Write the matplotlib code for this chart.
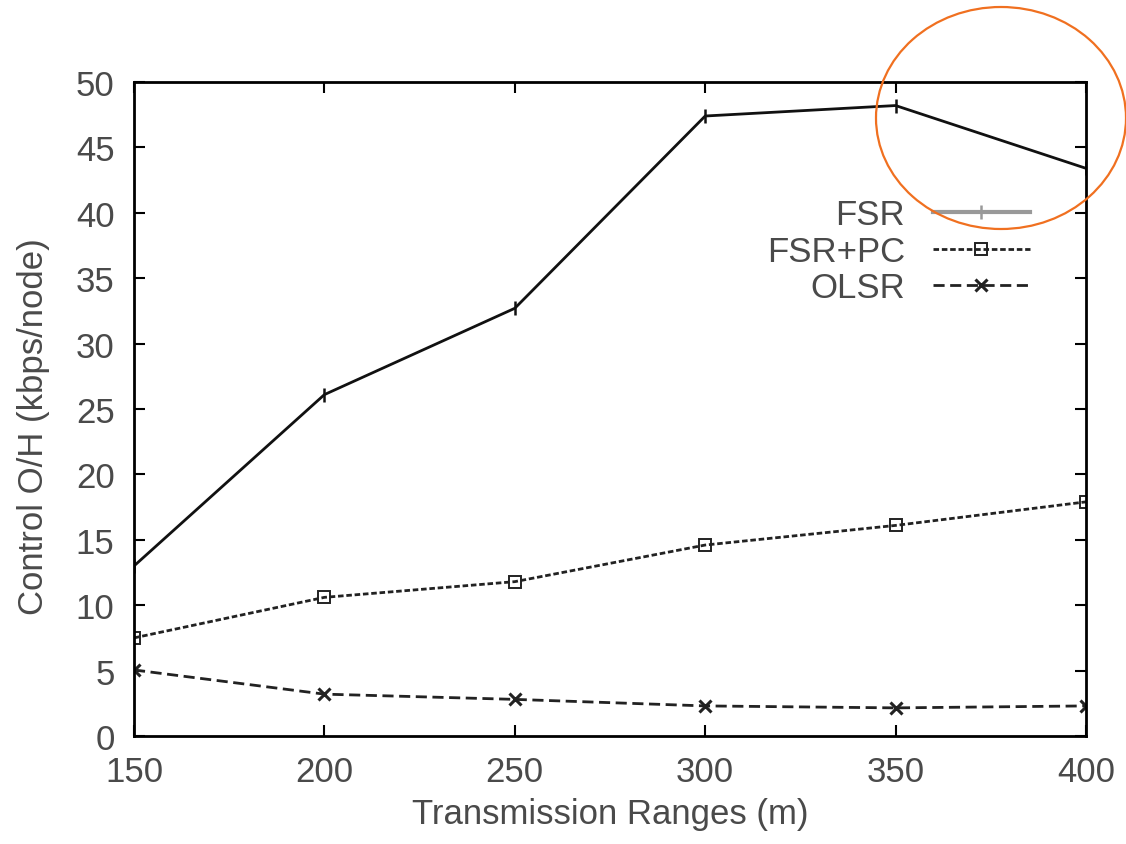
#! /usr/bin/env python3

import matplotlib
matplotlib.use( 'Agg' )
import matplotlib.pyplot as plt
from   matplotlib.patches import Ellipse

#----------------------------------------------------------------------------
# Data
#----------------------------------------------------------------------------
ranges   = [ 150, 200, 250, 300, 350, 400 ]
fsr      = [ 13.0, 26.1, 32.7, 47.4, 48.2, 43.4 ]
fsr_pc   = [ 7.5, 10.6, 11.8, 14.6, 16.1, 17.9 ]
olsr     = [ 5.05, 3.2, 2.8, 2.3, 2.15, 2.3 ]

xticks   = [ 150, 200, 250, 300, 350, 400 ]
yticks   = [ 0, 5, 10, 15, 20, 25, 30, 35, 40, 45, 50 ]

#----------------------------------------------------------------------------
def main():
    plt.rcParams['font.family'] = [ 'Liberation Sans', 'DejaVu Sans' ]
    txt = '#4a4a4a'
    fs  = 25

    W, H = 1126, 845
    fig = plt.figure( figsize = ( W / 100, H / 100 ), dpi = 100 )
    ax  = fig.add_axes( [ 134 / W, 1 - 737 / H, 952 / W, 654 / H ] )

    ax.plot( ranges, fsr, color = '#111111', lw = 2.0, ls = '-',
             marker = '|', ms = 10, mew = 1.8, label = 'FSR' )
    ax.plot( ranges, fsr_pc, color = '#222222', lw = 2.0, ls = ( 0, ( 2, 1 ) ),
             marker = 's', ms = 8, mfc = 'none', mew = 1.4, label = 'FSR+PC' )
    ax.plot( ranges, olsr, color = '#222222', lw = 2.0, ls = ( 0, ( 4, 2 ) ),
             marker = 'x', ms = 9, mew = 2.2, label = 'OLSR' )

    ax.set_xlim( 150, 400 )
    ax.set_ylim( 0, 50 )
    ax.set_xticks( xticks )
    ax.set_yticks( yticks )
    ax.tick_params( direction = 'in', length = 8, width = 1.5,
                    top = True, right = True, labelsize = fs,
                    labelcolor = txt )
    ax.tick_params( axis = 'x', pad = 14 )
    ax.tick_params( axis = 'y', pad = 14 )
    for s in ax.spines.values():
        s.set_linewidth( 2 )

    ax.set_xlabel( 'Transmission Ranges (m)', fontsize = fs, color = txt,
                   labelpad = 6 )
    ax.set_ylabel( 'Control O/H (kbps/node)', fontsize = fs, color = txt )
    ax.yaxis.set_label_coords( -0.088, 0.475 )

    leg = ax.legend( loc = 'upper right', bbox_to_anchor = ( 0.941, 0.822 ),
                     frameon = False, markerfirst = False, fontsize = fs,
                     handlelength = 2.8, labelspacing = 0.1,
                     borderpad = 0, borderaxespad = 0, handletextpad = 0.8,
                     alignment = 'right' )
    for t in leg.get_texts():
        t.set_color( txt )
        t.set_horizontalalignment( 'right' )
    leg.get_lines()[0].set_color( '#999999' )
    leg.get_lines()[0].set_linewidth( 3 )

    # orange highlight circle
    el = Ellipse( ( 1001 / W, 1 - 119 / H ), 250 / W, 222 / H,
                  transform = fig.transFigure, fill = False,
                  edgecolor = '#f07020', lw = 1.6, clip_on = False )
    fig.patches.append( el )

    fig.savefig( 'out.png', dpi = 100 )

#----------------------------------------------------------------------------
if __name__ == "__main__":
    main()
